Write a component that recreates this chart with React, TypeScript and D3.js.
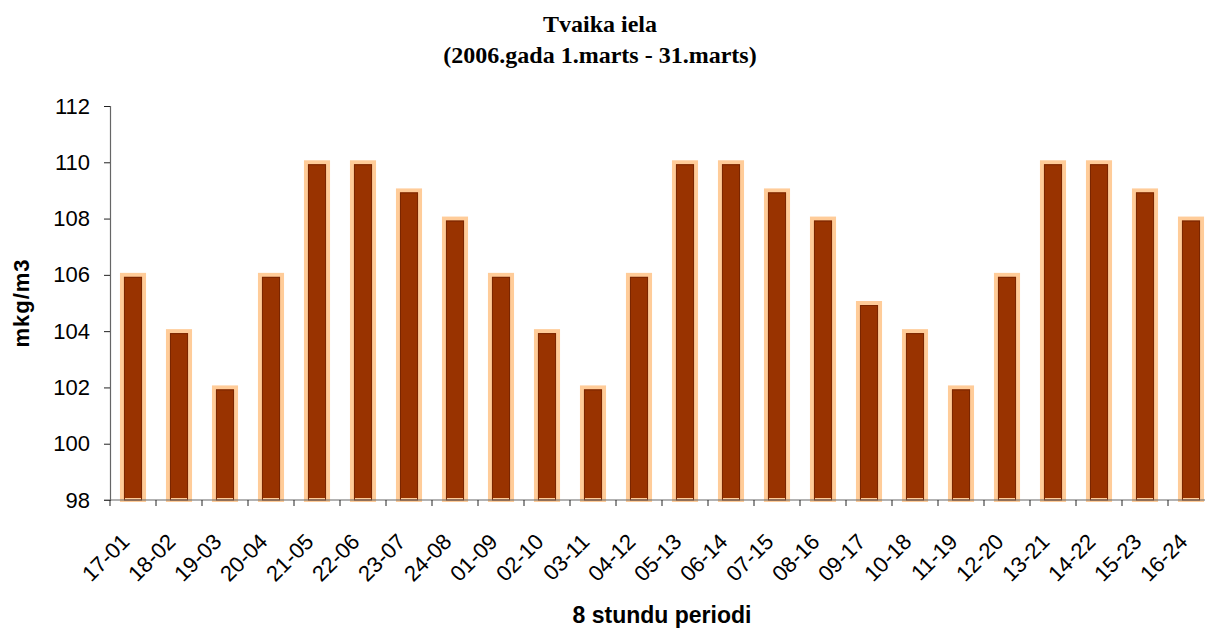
import { useEffect, useRef } from 'react';
import * as d3 from 'd3';

const periods = [
  '17-01', '18-02', '19-03', '20-04', '21-05', '22-06', '23-07', '24-08',
  '01-09', '02-10', '03-11', '04-12', '05-13', '06-14', '07-15', '08-16',
  '09-17', '10-18', '11-19', '12-20', '13-21', '14-22', '15-23', '16-24',
];
const values = [
  106, 104, 102, 106, 110, 110, 109, 108,
  106, 104, 102, 106, 110, 110, 109, 108,
  105, 104, 102, 106, 110, 110, 109, 108,
];
const yTicks = [98, 100, 102, 104, 106, 108, 110, 112];
const titleLines = ['Tvaika iela', '(2006.gada 1.marts - 31.marts)'];
const yTitle = 'mkg/m3';
const xTitle = '8 stundu periodi';

const W = 1205;
const H = 628;

export default function App() {
  const svgRef = useRef<SVGSVGElement>(null);

  useEffect(() => {
    if (!svgRef.current) return;
    const svg = d3.select(svgRef.current);
    svg.selectAll('*').remove();

    const left = 110;
    const right = 1214;
    const top = 106;
    const bottom = 500;
    const sans = '"Liberation Sans", Arial, sans-serif';

    const x = d3.scaleBand<string>()
      .domain(periods)
      .range([left, right])
      .paddingInner(0.52)
      .paddingOuter(0.26);
    const y = d3.scaleLinear().domain([98, 112]).range([bottom, top]);

    // title
    svg.append('g')
      .selectAll('text')
      .data(titleLines)
      .join('text')
      .attr('x', 600)
      .attr('y', (_, i) => 32 + i * 31)
      .attr('text-anchor', 'middle')
      .attr('font-family', '"Liberation Serif", "Times New Roman", serif')
      .attr('font-weight', 'bold')
      .attr('font-size', 24)
      .attr('fill', '#000')
      .text((d) => d);

    // bars
    const bars = svg.append('g');
    bars.selectAll('rect.bar')
      .data(values)
      .join('rect')
      .attr('class', 'bar')
      .attr('x', (_, i) => x(periods[i])!)
      .attr('y', (d) => y(d))
      .attr('width', x.bandwidth())
      .attr('height', (d) => bottom - y(d))
      .attr('fill', '#993300')
      .attr('stroke', '#FFCC99')
      .attr('stroke-width', 4);
    bars.selectAll('rect.edge')
      .data(values)
      .join('rect')
      .attr('class', 'edge')
      .attr('x', (_, i) => x(periods[i])! + 2.5)
      .attr('y', (d) => y(d) + 2.5)
      .attr('width', x.bandwidth() - 5)
      .attr('height', (d) => bottom - y(d) - 2.5)
      .attr('fill', 'none')
      .attr('stroke', '#7a2600')
      .attr('stroke-width', 1);

    // y axis
    const yAxis = d3.axisLeft(y).tickValues(yTicks).tickSize(6).tickPadding(14).tickFormat(d3.format('d'));
    const gy = svg.append('g').attr('transform', `translate(${left},0)`).call(yAxis);
    gy.select('.domain').attr('stroke', '#666').attr('stroke-width', 1.2);
    gy.selectAll('.tick line').attr('stroke', '#222');
    gy.selectAll('.tick text')
      .attr('font-family', sans)
      .attr('font-size', 22)
      .attr('fill', '#000');

    // x axis
    svg.append('line')
      .attr('x1', left - 6).attr('x2', W)
      .attr('y1', bottom).attr('y2', bottom)
      .attr('stroke', '#666').attr('stroke-width', 1.2);
    const step = x.step();
    svg.append('g')
      .selectAll('line')
      .data(d3.range(periods.length + 1))
      .join('line')
      .attr('x1', (i) => left + i * step)
      .attr('x2', (i) => left + i * step)
      .attr('y1', bottom)
      .attr('y2', bottom + 6)
      .attr('stroke', '#222');

    svg.append('g')
      .selectAll('text')
      .data(periods)
      .join('text')
      .attr('transform', (d) => `translate(${x(d)! + x.bandwidth() / 2 - 2},${bottom + 43}) rotate(-45)`)
      .attr('text-anchor', 'end')
      .attr('font-family', sans)
      .attr('font-size', 22)
      .attr('fill', '#000')
      .text((d) => d);

    // axis titles
    svg.append('text')
      .attr('transform', `translate(29,${(top + bottom) / 2}) rotate(-90)`)
      .attr('text-anchor', 'middle')
      .attr('font-family', sans)
      .attr('font-weight', 'bold')
      .attr('font-size', 22)
      .attr('letter-spacing', 1)
      .text(yTitle);

    svg.append('text')
      .attr('x', (left + right) / 2)
      .attr('y', 623)
      .attr('text-anchor', 'middle')
      .attr('font-family', sans)
      .attr('font-weight', 'bold')
      .attr('font-size', 23)
      .text(xTitle);
  }, []);

  return (
    <div style={{ position: 'absolute', left: 0, top: 0, width: W, height: H, background: '#fff' }}>
      <svg ref={svgRef} width={W} height={H} style={{ display: 'block' }} />
    </div>
  );
}
